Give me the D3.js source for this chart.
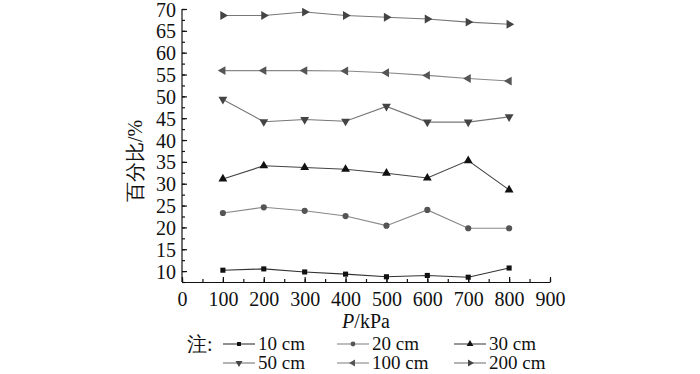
<!DOCTYPE html>
<html>
<head>
<meta charset="utf-8">
<script src="https://cdn.jsdelivr.net/npm/d3@7"></script>
<style>
  body { margin: 0; background: #fff; }
</style>
</head>
<body>
<svg width="700" height="374"></svg>
<script>
// pressure (kPa)
var pressure = [100, 200, 300, 400, 500, 600, 700, 800];

// percentages per depth
var d10  = [10.2, 10.5, 9.8, 9.3, 8.7, 9.0, 8.6, 10.7];
var d20  = [23.3, 24.6, 23.8, 22.6, 20.4, 24.0, 19.8, 19.8];
var d30  = [31.1, 34.1, 33.7, 33.3, 32.4, 31.3, 35.3, 28.6];
var d50  = [49.3, 44.2, 44.7, 44.3, 47.7, 44.1, 44.1, 45.3];
var d100 = [55.9, 55.9, 55.9, 55.8, 55.4, 54.8, 54.1, 53.5];
var d200 = [68.5, 68.5, 69.3, 68.5, 68.1, 67.7, 67.0, 66.5];

var seriesNames = ["10 cm", "20 cm", "30 cm", "50 cm", "100 cm", "200 cm"];
var xTicks = [0, 100, 200, 300, 400, 500, 600, 700, 800, 900];
var yTicks = [10, 15, 20, 25, 30, 35, 40, 45, 50, 55, 60, 65, 70];

var series = [
    {name: seriesNames[0], values: d10,  sym: d3.symbolSquare,   rot: 0,   size: 26, mark: "#111", line: "#333"},
    {name: seriesNames[1], values: d20,  sym: d3.symbolCircle,   rot: 0,   size: 30, mark: "#555", line: "#888"},
    {name: seriesNames[2], values: d30,  sym: d3.symbolTriangle, rot: 0,   size: 34, mark: "#111", line: "#444"},
    {name: seriesNames[3], values: d50,  sym: d3.symbolTriangle, rot: 180, size: 34, mark: "#444", line: "#777"},
    {name: seriesNames[4], values: d100, sym: d3.symbolTriangle, rot: -90, size: 34, mark: "#555", line: "#888"},
    {name: seriesNames[5], values: d200, sym: d3.symbolTriangle, rot: 90,  size: 34, mark: "#444", line: "#777"}
];

var serif = "'Liberation Serif', 'DejaVu Serif', serif";

var svg = d3.select("svg");

var x = d3.scaleLinear().domain([0, 900]).range([182, 550]);
var y = d3.scaleLinear().domain([7.5, 70]).range([282, 9]);

// y axis: major + minor ticks, pointing inward
var yMinor = d3.range(7.5, 70.01, 2.5);
svg.append("g")
    .attr("transform", "translate(182,0)")
    .call(d3.axisLeft(y).tickValues(yMinor).tickSize(-3).tickFormat(""))
    .call(g => g.select(".domain").remove());
var gy = svg.append("g")
    .attr("transform", "translate(182,0)")
    .call(d3.axisLeft(y).tickValues(yTicks).tickSizeInner(-5).tickSizeOuter(0).tickPadding(6));
gy.select(".domain").attr("d", "M0," + y(70) + "V" + y(7.5));
gy.attr("font-family", null);
gy.selectAll("text").attr("font-size", 20).attr("fill", "#111").attr("dy", "0.35em");

// x axis
var xMinor = d3.range(0, 901, 50);
svg.append("g")
    .attr("transform", "translate(0,282)")
    .call(d3.axisBottom(x).tickValues(xMinor).tickSize(-3).tickFormat(""))
    .call(g => g.select(".domain").remove());
var gx = svg.append("g")
    .attr("transform", "translate(0,282)")
    .call(d3.axisBottom(x).tickValues(xTicks).tickSizeInner(-5).tickSizeOuter(0).tickPadding(10));
gx.attr("font-family", null);
gx.selectAll("text").attr("font-size", 20).attr("fill", "#111").attr("dy", "0.71em");

svg.selectAll(".domain, .tick line").attr("stroke", "#111").attr("stroke-width", 1.2);

// axis titles
svg.append("text")
    .attr("transform", "translate(142,161) rotate(-90)")
    .attr("text-anchor", "middle")
    .attr("font-size", 20)
    .attr("fill", "#111")
    .text("百分比/%");

var xt = svg.append("text")
    .attr("x", 366).attr("y", 328)
    .attr("text-anchor", "middle")
    .attr("font-size", 20)
    .attr("fill", "#111");
xt.append("tspan").attr("font-style", "italic").text("P");
xt.append("tspan").text("/kPa");

// lines and markers
var line = d3.line()
    .x((d, i) => x(pressure[i]))
    .y(d => y(d));

series.forEach(function (s) {
    svg.append("path")
        .datum(s.values)
        .attr("d", line)
        .attr("fill", "none")
        .attr("stroke", s.line)
        .attr("stroke-width", 1.1);

    svg.append("g").selectAll("path")
        .data(s.values)
        .enter().append("path")
        .attr("d", d3.symbol().type(s.sym).size(s.size))
        .attr("transform", (d, i) => "translate(" + x(pressure[i]) + "," + y(d) + ") rotate(" + s.rot + ")")
        .attr("fill", s.mark);
});

// legend
svg.append("text")
    .attr("x", 187).attr("y", 351)
    .attr("font-size", 20)
    .attr("fill", "#111")
    .text("注:");

var legendX = [258, 372, 489];
var legendY = [344, 363];

series.forEach(function (s, i) {
    var tx = legendX[i % 3];
    var ly = legendY[Math.floor(i / 3)];
    var g = svg.append("g");
    g.append("line")
        .attr("x1", tx - 35).attr("x2", tx - 3)
        .attr("y1", ly).attr("y2", ly)
        .attr("stroke", s.line).attr("stroke-width", 1.1);
    g.append("path")
        .attr("d", d3.symbol().type(s.sym).size(s.size * 0.6))
        .attr("transform", "translate(" + (tx - 19) + "," + ly + ") rotate(" + s.rot + ")")
        .attr("fill", s.mark);
    g.append("text")
        .attr("x", tx).attr("y", ly + 6)
        .attr("font-size", 19)
        .attr("fill", "#111")
        .text(s.name);
});

svg.selectAll("text").style("font-family", serif);
</script>
</body>
</html>
